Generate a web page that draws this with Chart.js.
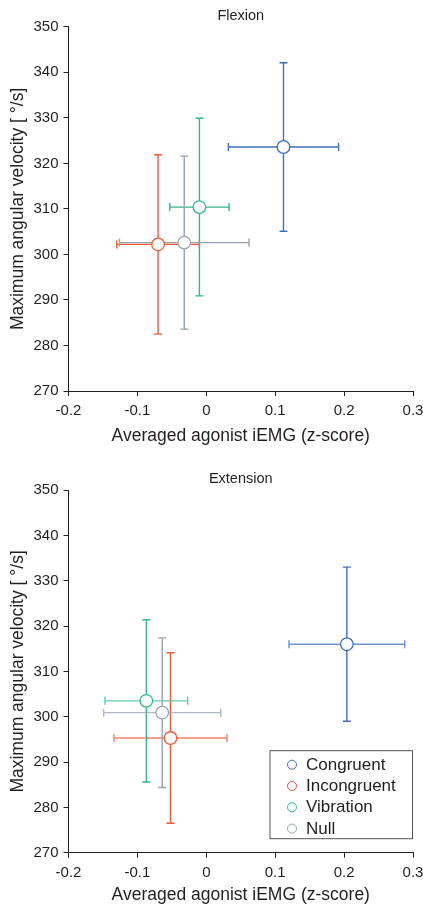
<!DOCTYPE html>
<html>
<head>
<meta charset="utf-8">
<script src="https://cdn.jsdelivr.net/npm/chart.js@4.4.1/dist/chart.umd.min.js"></script>
<style>
  html, body { margin: 0; padding: 0; background: #fff; }
  canvas { display: block; }
</style>
</head>
<body>
<canvas id="flexion" width="423" height="450"></canvas>
<canvas id="extension" width="423" height="456"></canvas>
<script>
// conditions and colours
const conditions = ["Congruent", "Incongruent", "Vibration", "Null"];
const colors = ["#4070bf", "#f05a38", "#35b688", "#98a2b0"];

// flexion: averaged agonist iEMG (x) and max angular velocity (y), with error bars
const flexionEmg = [0.112, -0.070, -0.010, -0.032];
const flexionEmgErr = [0.080, 0.060, 0.043, 0.094];
const flexionVel = [323.6, 302.2, 310.4, 302.6];
const flexionVelErr = [18.5, 19.7, 19.5, 19.0];

// extension
const extensionEmg = [0.204, -0.052, -0.087, -0.064];
const extensionEmgErr = [0.084, 0.082, 0.060, 0.085];
const extensionVel = [316.0, 295.3, 303.5, 300.9];
const extensionVelErr = [17.0, 18.8, 17.9, 16.5];

// axis ticks
const xTickLabels = ["-0.2", "-0.1", "0", "0.1", "0.2", "0.3"];
const yTickLabels = ["270", "280", "290", "300", "310", "320", "330", "340", "350"];

const FONT = "'Liberation Sans', Arial, Helvetica, sans-serif";
const INK = "#231f20";

// draws x/y error bars under each point
const errorBars = {
  id: "errorBars",
  beforeDatasetsDraw(chart, args, opts) {
    const {ctx, scales: {x, y}} = chart;
    const cap = 4;
    ctx.save();
    ctx.lineWidth = 1.4;
    chart.data.datasets.forEach(ds => {
      ctx.strokeStyle = ds.borderColor;
      ds.data.forEach(p => {
        const cx = x.getPixelForValue(p.x);
        const cy = y.getPixelForValue(p.y);
        const yTop = y.getPixelForValue(p.y + p.yErr);
        const yBot = y.getPixelForValue(p.y - p.yErr);
        const xL = x.getPixelForValue(p.x - p.xErr);
        const xR = x.getPixelForValue(p.x + p.xErr);
        ctx.globalAlpha = 1;
        ctx.beginPath();
        ctx.moveTo(cx, yTop); ctx.lineTo(cx, yBot);
        ctx.moveTo(cx - cap, yTop); ctx.lineTo(cx + cap, yTop);
        ctx.moveTo(cx - cap, yBot); ctx.lineTo(cx + cap, yBot);
        ctx.stroke();
        ctx.globalAlpha = opts.hAlpha || 1;
        ctx.beginPath();
        ctx.moveTo(xL, cy); ctx.lineTo(xR, cy);
        ctx.moveTo(xL, cy - cap); ctx.lineTo(xL, cy + cap);
        ctx.moveTo(xR, cy - cap); ctx.lineTo(xR, cy + cap);
        ctx.stroke();
      });
    });
    ctx.restore();
  },
};

// boxed legend inside the plot, bottom right
const boxLegend = {
  id: "boxLegend",
  afterDraw(chart, args, opts) {
    if (!opts.show) return;
    const {ctx, chartArea} = chart;
    const w = 143.5, h = 89;
    const right = chartArea.right;
    const bottom = chartArea.bottom - 13.5;
    const left = right - w, top = bottom - h;
    ctx.save();
    ctx.fillStyle = "#fff";
    ctx.fillRect(left, top, w, h);
    ctx.strokeStyle = "#555";
    ctx.lineWidth = 1;
    ctx.strokeRect(left + 0.5, top + 0.5, w - 1, h - 1);
    ctx.font = "17px " + FONT;
    ctx.textBaseline = "middle";
    chart.data.datasets.forEach((ds, i) => {
      const cy = top + 14.5 + i * 21.3;
      ctx.beginPath();
      ctx.arc(left + 22.5, cy, 4.5, 0, Math.PI * 2);
      ctx.strokeStyle = ds.borderColor;
      ctx.lineWidth = 1;
      ctx.stroke();
      ctx.fillStyle = INK;
      ctx.fillText(ds.label, left + 36.5, cy + 0.5);
    });
    ctx.restore();
  },
};

function buildDatasets(emg, emgErr, vel, velErr) {
  return conditions.map((name, i) => ({
    label: name,
    data: [{x: emg[i], y: vel[i], xErr: emgErr[i], yErr: velErr[i]}],
    borderColor: colors[i],
    backgroundColor: "#fff",
    pointRadius: 6.3,
    pointBorderWidth: 1.3,
    pointHoverRadius: 6.3,
  }));
}

function makeChart(id, title, datasets, layout) {
  return new Chart(document.getElementById(id), {
    type: "scatter",
    data: {datasets},
    options: {
      responsive: false,
      animation: false,
      events: [],
      layout: {padding: {left: 0, right: 10, top: 0, bottom: 0}, autoPadding: false},
      plugins: {
        legend: {display: false},
        tooltip: {enabled: false},
        title: {
          display: true,
          text: title,
          fullSize: false,
          color: INK,
          font: {family: FONT, size: 14.5, weight: "normal"},
          padding: {top: layout.titleTop, bottom: layout.titleBottom},
        },
        errorBars: {hAlpha: layout.hAlpha},
        boxLegend: {show: layout.legend},
      },
      scales: {
        x: {
          type: "linear",
          min: -0.2,
          max: 0.3,
          afterBuildTicks: scale => {
            scale.ticks = xTickLabels.map(v => ({value: parseFloat(v)}));
          },
          afterFit: scale => {
            scale.height = layout.xHeight;
            scale.paddingLeft = 0;
            scale.paddingRight = 0;
          },
          ticks: {
            color: INK,
            padding: 6,
            maxRotation: 0,
            font: {family: FONT, size: 15},
            callback: (v, i) => xTickLabels[i],
          },
          grid: {drawOnChartArea: false, drawTicks: true, tickLength: 5, color: INK, lineWidth: 1},
          border: {color: INK, width: 1},
          title: {
            display: true,
            text: "Averaged agonist iEMG (z-score)",
            color: INK,
            font: {family: FONT, size: 17.5},
            padding: {top: 0, bottom: layout.xTitleBottom},
          },
        },
        y: {
          type: "linear",
          min: 270,
          max: 350,
          afterBuildTicks: scale => {
            scale.ticks = yTickLabels.map(v => ({value: parseFloat(v)}));
          },
          afterFit: scale => { scale.width = 68.5; },
          ticks: {
            color: INK,
            padding: 5,
            font: {family: FONT, size: 15},
            callback: (v, i) => yTickLabels[i],
          },
          grid: {drawOnChartArea: false, drawTicks: true, tickLength: 5, color: INK, lineWidth: 1},
          border: {color: INK, width: 1},
          title: {
            display: true,
            text: "Maximum angular velocity [ °/s]",
            color: INK,
            font: {family: FONT, size: 17.5},
            padding: {top: 7.5, bottom: 0},
          },
        },
      },
    },
    plugins: [errorBars, boxLegend],
  });
}

makeChart("flexion", "Flexion",
  buildDatasets(flexionEmg, flexionEmgErr, flexionVel, flexionVelErr),
  {titleTop: 7.2, titleBottom: 2.2, xHeight: 59, xTitleBottom: 3.8, hAlpha: 1, legend: false});

makeChart("extension", "Extension",
  buildDatasets(extensionEmg, extensionEmgErr, extensionVel, extensionVelErr),
  {titleTop: 20.2, titleBottom: 2.5, xHeight: 53.3, xTitleBottom: 0, hAlpha: 0.75, legend: true});
</script>
</body>
</html>
